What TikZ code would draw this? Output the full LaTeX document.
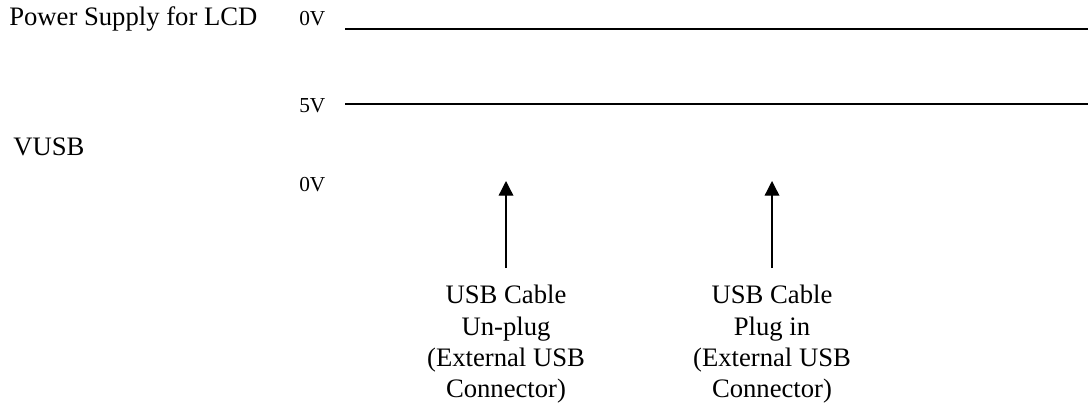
\documentclass[tikz,border=0pt]{standalone}
\usepackage{fontspec}
\setmainfont{Liberation Serif}
\usetikzlibrary{arrows.meta}

\begin{document}
\begin{tikzpicture}[x=0.75pt,y=-0.75pt,
  lbl/.style={anchor=base west,inner sep=0pt,font=\fontsize{20}{24}\selectfont},
  volt/.style={anchor=base west,inner sep=0pt,font=\fontsize{16}{19}\selectfont},
  note/.style={anchor=north,align=center,inner xsep=0pt,inner ysep=12.6pt,
               font=\fontsize{20}{23.6}\selectfont},
  level/.style={line width=1.6pt},
  event/.style={line width=1pt,-{Triangle[length=11pt,width=11pt]}}]
\useasboundingbox (0,0) rectangle (1088,407);
\node at (  9, 26) (lcd)    [lbl]  {Power Supply for LCD};
\node at ( 13,155) (vusb)   [lbl]  {VUSB};
\node at (299, 26) (hiZero) [volt] {0V};
\node at (299,112) (five)   [volt] {5V};
\node at (299,191) (loZero) [volt] {0V};
\coordinate (lcdL)  at ( 345, 29);
\coordinate (lcdR)  at (1088, 29);
\coordinate (vusbL) at ( 345,104);
\coordinate (vusbR) at (1088,104);
\draw [level] (lcdL) -- (lcdR);
\draw [level] (vusbL) -- (vusbR);
\coordinate (unplugTip) at (506,181);
\coordinate (plugTip)   at (772,181);
\node at (506,268) (unplug) [note] {USB Cable\\Un-plug\\(External USB\\Connector)};
\node at (772,268) (plug)   [note] {USB Cable\\Plug in\\(External USB\\Connector)};
\draw [event] (unplug) -- (unplugTip);
\draw [event] (plug) -- (plugTip);
\end{tikzpicture}
\end{document}
